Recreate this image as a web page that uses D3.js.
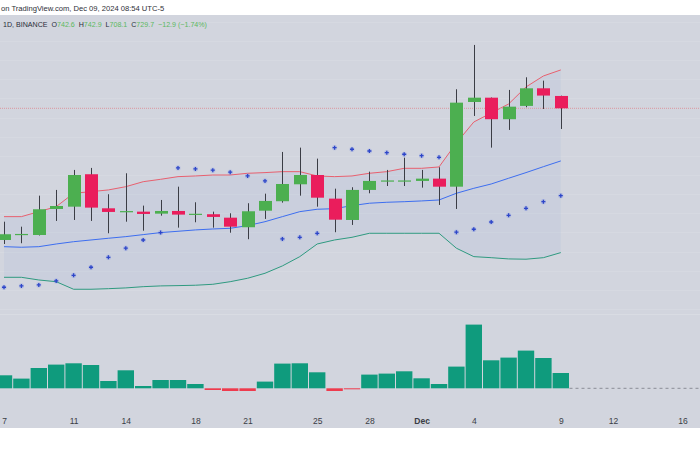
<!DOCTYPE html>
<html>
<head>
<meta charset="utf-8">
<script src="https://cdn.jsdelivr.net/npm/d3@7"></script>
<style>
  html, body { margin: 0; padding: 0; background: #ffffff; }
  svg { display: block; }
</style>
</head>
<body>
<svg id="chart" width="700" height="450"></svg>
<script>
// ---------------- DATA ----------------
const dates = ["2024-11-07","2024-11-08","2024-11-09","2024-11-10","2024-11-11","2024-11-12","2024-11-13",
  "2024-11-14","2024-11-15","2024-11-16","2024-11-17","2024-11-18","2024-11-19","2024-11-20","2024-11-21",
  "2024-11-22","2024-11-23","2024-11-24","2024-11-25","2024-11-26","2024-11-27","2024-11-28","2024-11-29",
  "2024-11-30","2024-12-01","2024-12-02","2024-12-03","2024-12-04","2024-12-05","2024-12-06","2024-12-07",
  "2024-12-08","2024-12-09"];
const opens  = [592.1,598.0,597.3,624.5,626.9,660.8,625.2,622.0,621.7,619.6,622.4,619.2,619.0,615.4,605.4,622.7,632.6,650.3,660.0,635.3,613.0,644.4,653.9,654.0,653.8,656.2,647.8,736.3,740.8,718.3,732.2,750.6,742.6];
const highs  = [611.2,606.0,638.4,644.4,665.3,667.4,639.9,661.8,628.0,633.9,647.8,631.5,621.7,620.0,630.5,640.5,684.1,688.6,677.1,645.7,647.2,663.5,665.3,678.1,665.3,668.1,749.6,795.9,741.0,748.9,762.1,758.6,742.9];
const lows   = [587.9,588.7,596.8,612.0,613.0,612.0,599.1,611.2,601.8,617.5,605.0,610.6,605.0,599.7,592.9,614.1,631.1,638.4,626.9,600.2,607.8,640.9,648.5,648.5,646.8,628.7,624.5,721.7,688.6,707.1,730.8,729.0,708.1];
const closes = [598.1,598.4,624.2,627.6,660.0,625.9,621.4,622.3,619.3,622.4,618.6,619.5,616.2,606.0,622.1,632.9,650.6,660.0,636.3,613.3,644.4,653.8,654.3,654.3,656.2,647.8,735.6,740.8,718.3,731.4,750.6,743.0,729.7];
const upperBand  = [616.5,616.5,621.7,626.9,640.9,642.6,644.4,647.8,653.0,655.5,658.3,659.0,660.0,660.0,661.8,662.5,663.5,663.5,659.0,658.3,659.0,661.8,663.5,667.0,667.0,668.4,693.5,715.4,724.8,734.2,752.0,763.5,769.8];
const middleBand = [585.1,584.5,585.1,587.9,590.3,592.1,593.9,595.6,597.7,599.8,601.2,602.6,603.6,604.3,607.1,611.2,616.5,621.7,624.2,624.8,628.0,630.5,631.5,632.1,632.9,633.9,640.9,646.1,650.6,656.6,662.5,668.7,674.7];
const lowerBand  = [553.1,553.1,550.3,548.5,540.6,540.6,541.2,542.0,543.3,544.1,544.4,544.8,545.8,548.5,552.1,557.3,565.0,574.7,587.9,592.1,594.9,599.1,599.1,599.1,599.1,599.1,583.5,574.7,573.6,572.3,572.0,573.6,578.9];
const sarValues  = [542.7,544.1,545.1,549.3,555.2,563.6,574.0,583.5,592.1,599.8,667.4,666.3,665.0,662.9,659.0,653.8,593.2,594.9,599.1,688.6,686.9,685.1,683.3,681.7,680.2,678.5,600.2,603.3,610.9,617.9,625.2,632.1,638.4];
const histValues = [13,9.7,20.3,23.7,25,23.3,7.3,18,2.3,8.3,8.3,4.3,-1.7,-2.7,-2.7,6.7,24.7,25,16,-2.7,-1,13.7,14.7,17,10,4.3,21.7,63.7,28,30.7,37.7,30.3,15.3];
const tickDates  = ["2024-11-07","2024-11-11","2024-11-14","2024-11-18","2024-11-21","2024-11-25","2024-11-28","2024-12-01","2024-12-04","2024-12-09","2024-12-12","2024-12-16"];
const tickLabels = ["7","11","14","18","21","25","28","Dec","4","9","12","16"];
const gridPrices = [820,800,780,760,740,720,700,680,660,640,620,600,580,560,540,520];
const headerText = "on TradingView.com, Dec 09, 2024 08:54 UTC-5";
const legendParts = [
  {t:"1D, BINANCE  ", c:"#2a2e39"},
  {t:"O", c:"#2a2e39"}, {t:"742.6  ", c:"#5cb860"},
  {t:"H", c:"#2a2e39"}, {t:"742.9  ", c:"#5cb860"},
  {t:"L", c:"#2a2e39"}, {t:"708.1  ", c:"#5cb860"},
  {t:"C", c:"#2a2e39"}, {t:"729.7  −12.9 (−1.74%)", c:"#5cb860"}
];
const lastClose = 729.7;

// ---------------- SETUP ----------------
const W = 700, H = 450;
const svg = d3.select("#chart");
const parse = d3.utcParse("%Y-%m-%d");
const rows = dates.map((d, i) => ({
  date: parse(d), o: opens[i], h: highs[i], l: lows[i], c: closes[i],
  up: upperBand[i], mid: middleBand[i], lo: lowerBand[i], sar: sarValues[i], v: histValues[i]
}));

const x = d3.scaleUtc().domain([parse("2024-11-07"), parse("2024-12-09")]).range([4, 560.8]);
const step = x(parse("2024-11-08")) - x(parse("2024-11-07"));
const y = d3.scaleLinear().domain([827.2, 513.7]).range([15, 315]);
const yv = d3.scaleLinear().domain([0, 64]).range([388.3, 324.3]);

const font = "'Liberation Sans', Arial, sans-serif";

// background
svg.append("rect").attr("x", 0).attr("y", 0).attr("width", W).attr("height", H).attr("fill", "#ffffff");
svg.append("rect").attr("x", 0).attr("y", 15).attr("width", W).attr("height", 413).attr("fill", "#d2d5de");

// grid
svg.append("g").selectAll("line").data(gridPrices).join("line")
  .attr("x1", 0).attr("x2", W)
  .attr("y1", d => Math.round(y(d)) + 0.5).attr("y2", d => Math.round(y(d)) + 0.5)
  .attr("stroke", "#d6d9e1").attr("stroke-width", 1);
// pane separator
svg.append("line").attr("x1", 0).attr("x2", W).attr("y1", 314.5).attr("y2", 314.5)
  .attr("stroke", "#d9dce3").attr("stroke-width", 1);

// band fill
const area = d3.area().x(d => x(d.date)).y0(d => y(d.lo)).y1(d => y(d.up));
svg.append("path").datum(rows).attr("d", area).attr("fill", "rgba(120,150,215,0.09)");

const line = key => d3.line().x(d => x(d.date)).y(d => y(d[key]));
svg.append("path").datum(rows).attr("d", line("up")).attr("fill", "none").attr("stroke", "#e8606f").attr("stroke-width", 1);
svg.append("path").datum(rows).attr("d", line("mid")).attr("fill", "none").attr("stroke", "#3d6ef0").attr("stroke-width", 1);
svg.append("path").datum(rows).attr("d", line("lo")).attr("fill", "none").attr("stroke", "#2f9a80").attr("stroke-width", 1);

// current price dotted line
svg.append("line").attr("x1", 0).attr("x2", W)
  .attr("y1", y(lastClose)).attr("y2", y(lastClose))
  .attr("stroke", "#d9a3ac").attr("stroke-width", 1.2).attr("stroke-dasharray", "1,1");

// candles
const bodyW = 13;
const cg = svg.append("g");
cg.selectAll("line.wick").data(rows).join("line").attr("class", "wick")
  .attr("x1", d => Math.round(x(d.date)) + 0.5).attr("x2", d => Math.round(x(d.date)) + 0.5)
  .attr("y1", d => y(d.h)).attr("y2", d => y(d.l))
  .attr("stroke", "#3b3d45").attr("stroke-width", 1);
cg.selectAll("rect.body").data(rows).join("rect").attr("class", "body")
  .attr("x", d => Math.round(x(d.date)) + 0.5 - bodyW / 2)
  .attr("width", bodyW)
  .attr("y", d => y(Math.max(d.o, d.c)))
  .attr("height", d => Math.max(1.2, Math.abs(y(d.o) - y(d.c))))
  .attr("fill", d => d.c >= d.o ? "#4caf50" : "#ea1d5c");

// parabolic SAR markers
const sg = svg.append("g");
sg.selectAll("circle").data(rows).join("circle")
  .attr("cx", d => x(d.date)).attr("cy", d => y(d.sar)).attr("r", 2.6)
  .attr("fill", "rgba(90,120,230,0.22)");
sg.selectAll("path").data(rows).join("path")
  .attr("d", d => {
    const cx = x(d.date), cy = y(d.sar), s = 2;
    return `M${cx - s},${cy}H${cx + s}M${cx},${cy - s}V${cy + s}`;
  })
  .attr("stroke", "#2d45c8").attr("stroke-width", 1.3).attr("fill", "none");

// histogram pane
const lastX = x(rows[rows.length - 1].date) + step / 2;
svg.append("line").attr("x1", lastX).attr("x2", W).attr("y1", yv(0)).attr("y2", yv(0))
  .attr("stroke", "#8a8d96").attr("stroke-width", 1).attr("stroke-dasharray", "3,3");
svg.append("g").selectAll("rect").data(rows).join("rect")
  .attr("x", d => x(d.date) - step / 2 + 0.5)
  .attr("width", step - 1)
  .attr("y", d => yv(Math.max(0, d.v)))
  .attr("height", d => Math.abs(yv(d.v) - yv(0)))
  .attr("fill", d => d.v >= 0 ? "#0f9b7d" : "#ee3b4e");

// x axis
const axis = d3.axisBottom(x)
  .tickValues(tickDates.map(parse))
  .tickFormat((d, i) => tickLabels[i])
  .tickSize(0).tickPadding(8);
const ag = svg.append("g").attr("transform", "translate(0,410)").call(axis);
ag.select(".domain").remove();
ag.selectAll("text")
  .attr("font-family", font).attr("font-size", 8.5).attr("fill", "#3a3d45")
  .attr("font-weight", (d, i) => tickLabels[i] === "Dec" ? "bold" : "normal");

// header
svg.append("text").attr("x", 1).attr("y", 11).attr("font-family", font).attr("font-size", 7.6)
  .attr("fill", "#2e3038").text(headerText);
const lt = svg.append("text").attr("x", 3).attr("y", 27).attr("font-family", font).attr("font-size", 7.1)
  .attr("xml:space", "preserve").style("white-space", "pre");
lt.selectAll("tspan").data(legendParts).join("tspan").attr("fill", d => d.c).text(d => d.t);
</script>
</body>
</html>
